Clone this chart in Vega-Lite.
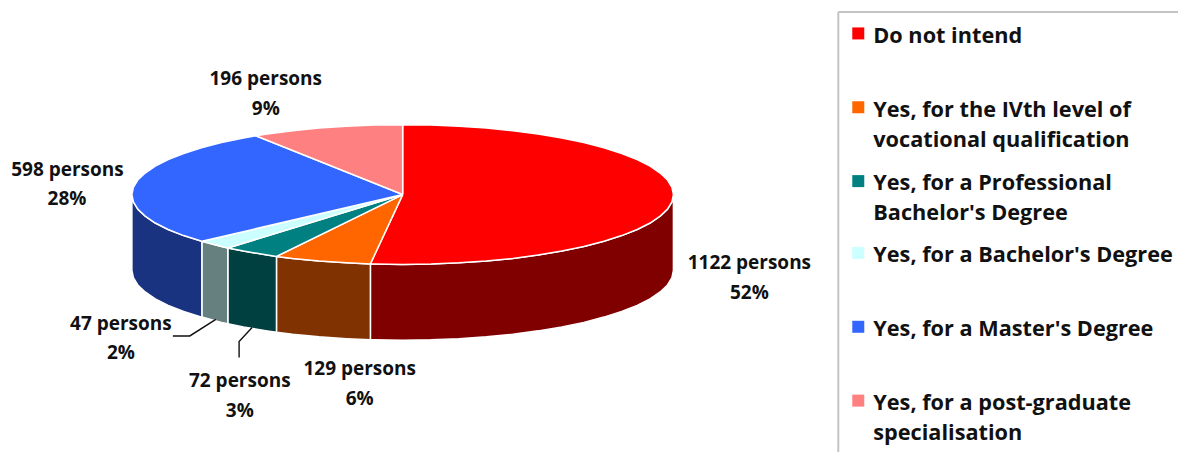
{
"$schema":"https://vega.github.io/schema/vega-lite/v6.json",
"autosize":{"type":"fit","contains":"padding"},
"width":1179,"height":453,"padding":0,
"background":"white",
"view":{"stroke":null},
"datasets":{
"outline":[
{"part":"Do not intend side","n":1,"x":674,"y":195},{"part":"Do not intend side","n":2,"x":672.5,"y":202.3},{"part":"Do not intend side","n":3,"x":668.1,"y":209.6},{"part":"Do not intend side","n":4,"x":660.7,"y":216.6},{"part":"Do not intend side","n":5,"x":650.6,"y":223.5},{"part":"Do not intend side","n":6,"x":637.7,"y":230},{"part":"Do not intend side","n":7,"x":622.2,"y":236.1},{"part":"Do not intend side","n":8,"x":604.4,"y":241.8},{"part":"Do not intend side","n":9,"x":584.3,"y":247.1},{"part":"Do not intend side","n":10,"x":562.3,"y":251.6},{"part":"Do not intend side","n":11,"x":538.5,"y":255.6},{"part":"Do not intend side","n":12,"x":513.2,"y":259},{"part":"Do not intend side","n":13,"x":486.7,"y":261.6},{"part":"Do not intend side","n":14,"x":459.3,"y":263.4},{"part":"Do not intend side","n":15,"x":431.3,"y":264.6},{"part":"Do not intend side","n":16,"x":403,"y":265},{"part":"Do not intend side","n":17,"x":374.7,"y":264.6},{"part":"Do not intend side","n":18,"x":370.7,"y":264.5},
{"part":"Do not intend side","n":19,"x":370.7,"y":340.5},{"part":"Do not intend side","n":20,"x":374.7,"y":340.6},{"part":"Do not intend side","n":21,"x":403,"y":341},{"part":"Do not intend side","n":22,"x":431.3,"y":340.6},{"part":"Do not intend side","n":23,"x":459.3,"y":339.4},{"part":"Do not intend side","n":24,"x":486.7,"y":337.6},{"part":"Do not intend side","n":25,"x":513.2,"y":335},{"part":"Do not intend side","n":26,"x":538.5,"y":331.6},{"part":"Do not intend side","n":27,"x":562.3,"y":327.6},{"part":"Do not intend side","n":28,"x":584.3,"y":323.1},{"part":"Do not intend side","n":29,"x":604.4,"y":317.8},{"part":"Do not intend side","n":30,"x":622.2,"y":312.1},{"part":"Do not intend side","n":31,"x":637.7,"y":306},{"part":"Do not intend side","n":32,"x":650.6,"y":299.5},{"part":"Do not intend side","n":33,"x":660.7,"y":292.6},{"part":"Do not intend side","n":34,"x":668.1,"y":285.6},{"part":"Do not intend side","n":35,"x":672.5,"y":278.3},{"part":"Do not intend side","n":36,"x":674,"y":271},{"part":"Do not intend side","n":37,"x":674,"y":195},

{"part":"IVth level side","n":1,"x":370.7,"y":264.5},{"part":"IVth level side","n":2,"x":346.7,"y":263.4},{"part":"IVth level side","n":3,"x":319.3,"y":261.6},{"part":"IVth level side","n":4,"x":292.8,"y":259},{"part":"IVth level side","n":5,"x":276.7,"y":257},{"part":"IVth level side","n":6,"x":276.7,"y":333},{"part":"IVth level side","n":7,"x":292.8,"y":335},{"part":"IVth level side","n":8,"x":319.3,"y":337.6},{"part":"IVth level side","n":9,"x":346.7,"y":339.4},{"part":"IVth level side","n":10,"x":370.7,"y":340.5},{"part":"IVth level side","n":11,"x":370.7,"y":264.5},

{"part":"Professional side","n":1,"x":276.7,"y":257},{"part":"Professional side","n":2,"x":267.5,"y":255.6},{"part":"Professional side","n":3,"x":243.7,"y":251.6},{"part":"Professional side","n":4,"x":228,"y":248.5},{"part":"Professional side","n":5,"x":228,"y":324.5},{"part":"Professional side","n":6,"x":243.7,"y":327.6},{"part":"Professional side","n":7,"x":267.5,"y":331.6},{"part":"Professional side","n":8,"x":276.7,"y":333},{"part":"Professional side","n":9,"x":276.7,"y":257},

{"part":"Bachelor side","n":1,"x":228,"y":248.5},{"part":"Bachelor side","n":2,"x":221.7,"y":247.1},{"part":"Bachelor side","n":3,"x":202,"y":241.8},{"part":"Bachelor side","n":4,"x":202,"y":317.8},{"part":"Bachelor side","n":5,"x":221.7,"y":323.1},{"part":"Bachelor side","n":6,"x":228,"y":324.5},{"part":"Bachelor side","n":7,"x":228,"y":248.5},

{"part":"Master side","n":1,"x":202,"y":241.8},{"part":"Master side","n":2,"x":183.8,"y":236.1},{"part":"Master side","n":3,"x":168.3,"y":230},{"part":"Master side","n":4,"x":155.4,"y":223.5},{"part":"Master side","n":5,"x":145.3,"y":216.6},{"part":"Master side","n":6,"x":137.9,"y":209.6},{"part":"Master side","n":7,"x":133.5,"y":202.3},{"part":"Master side","n":8,"x":132,"y":195},{"part":"Master side","n":9,"x":132,"y":271},{"part":"Master side","n":10,"x":133.5,"y":278.3},{"part":"Master side","n":11,"x":137.9,"y":285.6},{"part":"Master side","n":12,"x":145.3,"y":292.6},{"part":"Master side","n":13,"x":155.4,"y":299.5},{"part":"Master side","n":14,"x":168.3,"y":306},{"part":"Master side","n":15,"x":183.8,"y":312.1},{"part":"Master side","n":16,"x":202,"y":317.8},{"part":"Master side","n":17,"x":202,"y":241.8},

{"part":"Do not intend","n":0,"x":403,"y":195},{"part":"Do not intend","n":1,"x":403,"y":125},{"part":"Do not intend","n":2,"x":431.3,"y":125.4},{"part":"Do not intend","n":3,"x":459.3,"y":126.6},{"part":"Do not intend","n":4,"x":486.7,"y":128.4},{"part":"Do not intend","n":5,"x":513.2,"y":131},{"part":"Do not intend","n":6,"x":538.5,"y":134.4},{"part":"Do not intend","n":7,"x":562.3,"y":138.4},{"part":"Do not intend","n":8,"x":584.3,"y":142.9},{"part":"Do not intend","n":9,"x":604.4,"y":148.2},{"part":"Do not intend","n":10,"x":622.2,"y":153.9},{"part":"Do not intend","n":11,"x":637.7,"y":160},{"part":"Do not intend","n":12,"x":650.6,"y":166.5},{"part":"Do not intend","n":13,"x":660.7,"y":173.4},{"part":"Do not intend","n":14,"x":668.1,"y":180.4},{"part":"Do not intend","n":15,"x":672.5,"y":187.7},{"part":"Do not intend","n":16,"x":674,"y":195},{"part":"Do not intend","n":17,"x":672.5,"y":202.3},{"part":"Do not intend","n":18,"x":668.1,"y":209.6},{"part":"Do not intend","n":19,"x":660.7,"y":216.6},{"part":"Do not intend","n":20,"x":650.6,"y":223.5},{"part":"Do not intend","n":21,"x":637.7,"y":230},{"part":"Do not intend","n":22,"x":622.2,"y":236.1},{"part":"Do not intend","n":23,"x":604.4,"y":241.8},{"part":"Do not intend","n":24,"x":584.3,"y":247.1},{"part":"Do not intend","n":25,"x":562.3,"y":251.6},{"part":"Do not intend","n":26,"x":538.5,"y":255.6},{"part":"Do not intend","n":27,"x":513.2,"y":259},{"part":"Do not intend","n":28,"x":486.7,"y":261.6},{"part":"Do not intend","n":29,"x":459.3,"y":263.4},{"part":"Do not intend","n":30,"x":431.3,"y":264.6},{"part":"Do not intend","n":31,"x":403,"y":265},{"part":"Do not intend","n":32,"x":374.7,"y":264.6},{"part":"Do not intend","n":33,"x":370.7,"y":264.5},{"part":"Do not intend","n":34,"x":403,"y":195},

{"part":"Yes, for the IVth level of vocational qualification","n":0,"x":403,"y":195},{"part":"Yes, for the IVth level of vocational qualification","n":1,"x":370.7,"y":264.5},{"part":"Yes, for the IVth level of vocational qualification","n":2,"x":346.7,"y":263.4},{"part":"Yes, for the IVth level of vocational qualification","n":3,"x":319.3,"y":261.6},{"part":"Yes, for the IVth level of vocational qualification","n":4,"x":292.8,"y":259},{"part":"Yes, for the IVth level of vocational qualification","n":5,"x":276.7,"y":257},{"part":"Yes, for the IVth level of vocational qualification","n":6,"x":403,"y":195},

{"part":"Yes, for a Professional Bachelor's Degree","n":0,"x":403,"y":195},{"part":"Yes, for a Professional Bachelor's Degree","n":1,"x":276.7,"y":257},{"part":"Yes, for a Professional Bachelor's Degree","n":2,"x":267.5,"y":255.6},{"part":"Yes, for a Professional Bachelor's Degree","n":3,"x":243.7,"y":251.6},{"part":"Yes, for a Professional Bachelor's Degree","n":4,"x":228,"y":248.5},{"part":"Yes, for a Professional Bachelor's Degree","n":5,"x":403,"y":195},

{"part":"Yes, for a Bachelor's Degree","n":0,"x":403,"y":195},{"part":"Yes, for a Bachelor's Degree","n":1,"x":228,"y":248.5},{"part":"Yes, for a Bachelor's Degree","n":2,"x":221.7,"y":247.1},{"part":"Yes, for a Bachelor's Degree","n":3,"x":202,"y":241.8},{"part":"Yes, for a Bachelor's Degree","n":4,"x":403,"y":195},

{"part":"Yes, for a Master's Degree","n":0,"x":403,"y":195},{"part":"Yes, for a Master's Degree","n":1,"x":202,"y":241.8},{"part":"Yes, for a Master's Degree","n":2,"x":183.8,"y":236.1},{"part":"Yes, for a Master's Degree","n":3,"x":168.3,"y":230},{"part":"Yes, for a Master's Degree","n":4,"x":155.4,"y":223.5},{"part":"Yes, for a Master's Degree","n":5,"x":145.3,"y":216.6},{"part":"Yes, for a Master's Degree","n":6,"x":137.9,"y":209.6},{"part":"Yes, for a Master's Degree","n":7,"x":133.5,"y":202.3},{"part":"Yes, for a Master's Degree","n":8,"x":132,"y":195},{"part":"Yes, for a Master's Degree","n":9,"x":133.5,"y":187.7},{"part":"Yes, for a Master's Degree","n":10,"x":137.9,"y":180.4},{"part":"Yes, for a Master's Degree","n":11,"x":145.3,"y":173.4},{"part":"Yes, for a Master's Degree","n":12,"x":155.4,"y":166.5},{"part":"Yes, for a Master's Degree","n":13,"x":168.3,"y":160},{"part":"Yes, for a Master's Degree","n":14,"x":183.8,"y":153.9},{"part":"Yes, for a Master's Degree","n":15,"x":201.6,"y":148.2},{"part":"Yes, for a Master's Degree","n":16,"x":221.7,"y":142.9},{"part":"Yes, for a Master's Degree","n":17,"x":243.7,"y":138.4},{"part":"Yes, for a Master's Degree","n":18,"x":256,"y":136},{"part":"Yes, for a Master's Degree","n":19,"x":403,"y":195},

{"part":"Yes, for a post-graduate specialisation","n":0,"x":403,"y":195},{"part":"Yes, for a post-graduate specialisation","n":1,"x":256,"y":136},{"part":"Yes, for a post-graduate specialisation","n":2,"x":267.5,"y":134.4},{"part":"Yes, for a post-graduate specialisation","n":3,"x":292.8,"y":131},{"part":"Yes, for a post-graduate specialisation","n":4,"x":319.3,"y":128.4},{"part":"Yes, for a post-graduate specialisation","n":5,"x":346.7,"y":126.6},{"part":"Yes, for a post-graduate specialisation","n":6,"x":374.7,"y":125.4},{"part":"Yes, for a post-graduate specialisation","n":7,"x":403,"y":125},{"part":"Yes, for a post-graduate specialisation","n":8,"x":403,"y":195}
],
"callouts":[
{"text":"1122 persons","x":750,"y":270},{"text":"52%","x":750,"y":300},
{"text":"129 persons","x":360,"y":376},{"text":"6%","x":360,"y":406},
{"text":"72 persons","x":240,"y":388},{"text":"3%","x":240,"y":418},
{"text":"47 persons","x":121,"y":331},{"text":"2%","x":121,"y":360},
{"text":"598 persons","x":67.5,"y":176},{"text":"28%","x":67,"y":205},
{"text":"196 persons","x":266,"y":85},{"text":"9%","x":266,"y":115}
],
"leaders":[
{"id":"47 persons","n":1,"x":173,"y":336.7},{"id":"47 persons","n":2,"x":190,"y":336.7},{"id":"47 persons","n":3,"x":216,"y":320},
{"id":"72 persons","n":1,"x":239.3,"y":358.3},{"id":"72 persons","n":2,"x":239.3,"y":342.3},{"id":"72 persons","n":3,"x":252.3,"y":328.3}
],
"swatches":[
{"part":"Do not intend","x":859,"y":33.5},
{"part":"Yes, for the IVth level of vocational qualification","x":859,"y":107.5},
{"part":"Yes, for a Professional Bachelor's Degree","x":859,"y":181.5},
{"part":"Yes, for a Bachelor's Degree","x":859,"y":253.5},
{"part":"Yes, for a Master's Degree","x":859,"y":327.5},
{"part":"Yes, for a post-graduate specialisation","x":859,"y":401.5}
],
"legendText":[
{"text":"Do not intend","x":874,"y":42.7},
{"text":"Yes, for the IVth level of","x":874,"y":117.3},
{"text":"vocational qualification","x":874,"y":147.3},
{"text":"Yes, for a Professional","x":874,"y":190.7},
{"text":"Bachelor's Degree","x":874,"y":220.7},
{"text":"Yes, for a Bachelor's Degree","x":874,"y":262.7},
{"text":"Yes, for a Master's Degree","x":874,"y":336.7},
{"text":"Yes, for a post-graduate","x":874,"y":411},
{"text":"specialisation","x":874,"y":440.7}
],
"frame":[
{"x":839,"y":12,"x2":839,"y2":453},
{"x":839,"y":12,"x2":1179,"y2":12}
]
},
"encoding":{
"x":{"field":"x","type":"quantitative","axis":null,"scale":{"domain":[0,1179],"nice":false,"zero":false}},
"y":{"field":"y","type":"quantitative","axis":null,"scale":{"domain":[0,453],"reverse":true,"nice":false,"zero":false}}
},
"layer":[
{
"data":{"name":"outline"},
"mark":{"type":"line","stroke":"white","strokeWidth":1.5,"strokeJoin":"round","interpolate":"linear"},
"encoding":{
"fill":{"field":"part","type":"nominal","legend":null,"sort":null,"scale":{
"domain":["Do not intend","Yes, for the IVth level of vocational qualification","Yes, for a Professional Bachelor's Degree","Yes, for a Bachelor's Degree","Yes, for a Master's Degree","Yes, for a post-graduate specialisation","Do not intend side","IVth level side","Professional side","Bachelor side","Master side"],
"range":["#FF0000","#FF6600","#008080","#CCFFFF","#3366FF","#FF8080","#800000","#803300","#004040","#668080","#1A3380"]}},
"order":{"field":"n","type":"quantitative"}
}
},
{
"data":{"name":"leaders"},
"mark":{"type":"line","stroke":"#111111","strokeWidth":1.4},
"encoding":{"detail":{"field":"id"},"order":{"field":"n","type":"quantitative"}}
},
{
"data":{"name":"callouts"},
"mark":{"type":"text","font":"Open Sans","fontWeight":"bold","fontSize":19,"align":"center","baseline":"alphabetic","fill":"#111111"},
"encoding":{"text":{"field":"text"}}
},
{
"data":{"name":"frame"},
"mark":{"type":"rule","stroke":"#C4C4C4","strokeWidth":2},
"encoding":{"x2":{"field":"x2"},"y2":{"field":"y2"}}
},
{
"data":{"name":"swatches"},
"mark":{"type":"point","shape":"square","filled":true,"size":144,"opacity":1},
"encoding":{"fill":{"field":"part","type":"nominal","legend":null}}
},
{
"data":{"name":"legendText"},
"mark":{"type":"text","font":"Open Sans","fontWeight":"bold","fontSize":21.7,"align":"left","baseline":"alphabetic","fill":"#111111"},
"encoding":{"text":{"field":"text"}}
}
]
}
